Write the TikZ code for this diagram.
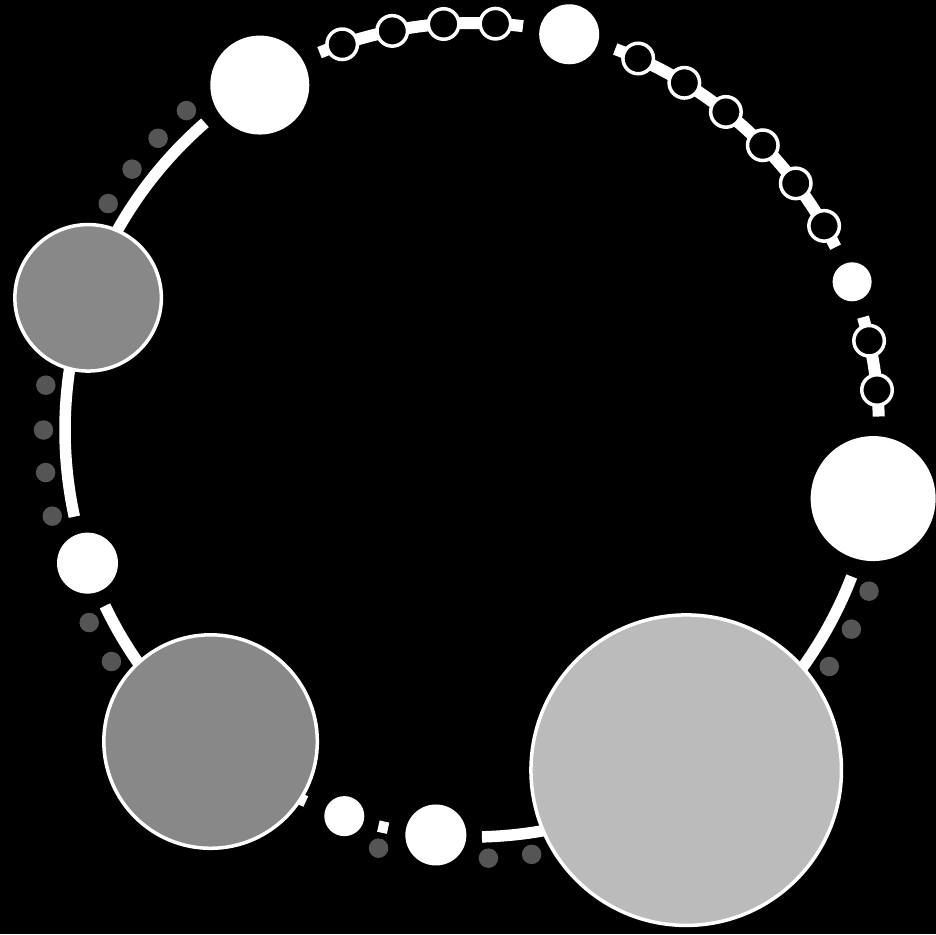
\documentclass[tikz,border=0pt]{standalone}
\usepackage{tikz}
\definecolor{grigiomedio}{HTML}{888888}
\definecolor{grigiochiaro}{HTML}{BBBBBB}
\definecolor{grigioscuro}{HTML}{555555}

\begin{document}
\begin{tikzpicture}[
  x=1pt, y=1pt,
  anello/.style={draw=white, line width=11.5pt},
  catena/.style={draw=white, line width=12pt},
  disco/.style={circle, fill=white, inner sep=0pt},
  grigio/.style={circle, draw=white, line width=3.5pt, inner sep=0pt},
  occhiello/.style={circle, draw=white, fill=black, line width=3.5pt,
                    inner sep=0pt, minimum size=30.5pt},
  pallino/.style={circle, fill=grigioscuro, inner sep=0pt, minimum size=19.5pt}
]

% sfondo
\path[fill=black, use as bounding box] (-472,430) rectangle (464,-504);

% archi dell'anello
\foreach \a/\b in {131/192.3, 205.6/245.9, 256.7/258.1, 271.4/338.9}
  \draw[anello] (\a:407) arc[start angle=\a, end angle=\b, radius=407];

% catene
\foreach \a/\b in {112/82.8, 69.4/26.7, 16.1/1.9}
  \draw[catena] (\a:407) arc[start angle=\a, end angle=\b, radius=407];

% pallini esterni
\foreach \t [count=\k] in {131.8,137.1,142.5,148.1,174,180,185.7,191.6,
                           206.7,212.7,257.4,272.2,278,326.5,332.3,337.9}
  \node[pallino] (p\k) at (\t:428.5) {};

% dischi pieni
\node[disco, minimum size=99pt]  (A) at (121.6:405) {};
\node[disco, minimum size=60pt]  (B) at (76.2:407.5) {};
\node[disco, minimum size=39pt]  (C) at (21.3:408) {};
\node[disco, minimum size=125pt] (D) at (-9.7:407) {};
\node[disco, minimum size=61pt]  (F) at (-95.1:406.6) {};
\node[disco, minimum size=40pt]  (G) at (-108.3:406.7) {};
\node[disco, minimum size=61pt]  (I) at (-160.9:406.9) {};

% dischi grigi
\node[grigio, fill=grigiochiaro, minimum size=310.5pt] (E) at (-57.8:402) {};
\node[grigio, fill=grigiomedio, minimum size=213.5pt]  (H) at (-130:406.7) {};
\node[grigio, fill=grigiomedio, minimum size=146.5pt]  (J) at (161:406) {};

% occhielli sulle catene
\foreach \t [count=\k] in {108.6,101.3,94,86.7,65.9,58.55,51.4,44.4,37.3,30.1,12.67,5.64}
  \node[occhiello] (o\k) at (\t:407) {};

\end{tikzpicture}
\end{document}
